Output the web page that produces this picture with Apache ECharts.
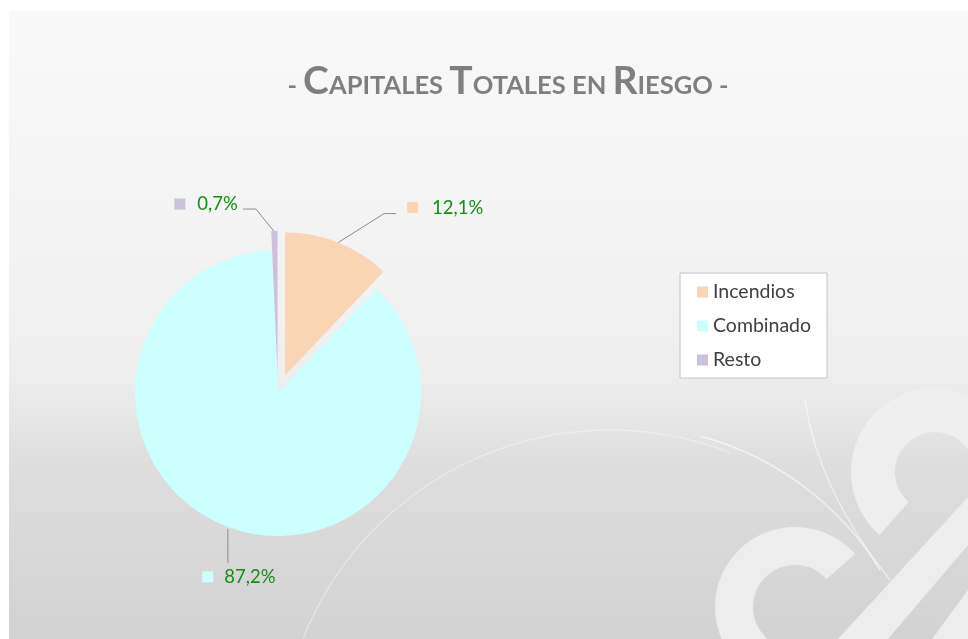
<!DOCTYPE html>
<html>
<head>
<meta charset="utf-8">
<script src="https://cdn.jsdelivr.net/npm/echarts@6/dist/echarts.min.js"></script>
<style>
  html, body { margin: 0; padding: 0; background: #ffffff; }
  #chart { width: 968px; height: 639px; }
</style>
</head>
<body>
<div id="chart"></div>
<script>
// ---- data ----
const categories = ['Incendios', 'Combinado', 'Resto'];
const values = [12.1, 87.2, 0.7];
const explodedSlices = ['Incendios', 'Resto'];
const sliceColors = ['#fad5b5', '#ccffff', '#ccc0da'];

const chart = echarts.init(document.getElementById('chart'), null, { renderer: 'canvas' });

const FONT = 'Lato, "Open Sans", sans-serif';
const CX = 278, CY = 393, R = 143;

function fmt(v) { return v.toFixed(1).replace('.', ',') + '%'; }

// per-slice leader line / label placement (styling only)
const labelCfg = [
  { length: 37.7, length2: 45, dist: 10, gap: 14 },
  { length: 30, length2: 0, dist: 5, gap: 11 },
  { length: 27, length2: 31, dist: 5, gap: 12 }
];

const pieData = categories.map((name, i) => ({
  name: name,
  value: values[i],
  selected: explodedSlices.indexOf(name) >= 0,
  itemStyle: { color: sliceColors[i] },
  labelLine: { length: labelCfg[i].length, length2: labelCfg[i].length2 },
  label: {
    distanceToLabelLine: labelCfg[i].dist,
    rich: {
      sq: { width: 11, height: 11, backgroundColor: sliceColors[i] },
      t: { fontFamily: FONT, fontSize: 18.5, color: '#168c16', padding: [0, 0, 0, labelCfg[i].gap] }
    }
  }
}));

const option = {
  backgroundColor: '#ffffff',
  animation: false,
  title: {
    text: '{d|- }{b|C}{s|APITALES }{b|T}{s|OTALES EN }{b|R}{s|IESGO}{d| -}',
    left: 503,
    top: 52,
    textAlign: 'center',
    textStyle: {
      rich: {
        b: { fontFamily: FONT, fontWeight: 'bold', fontSize: 39, color: '#7f7f7f', lineHeight: 44, verticalAlign: 'bottom' },
        s: { fontFamily: FONT, fontWeight: 'bold', fontSize: 25.5, color: '#7f7f7f', lineHeight: 44, verticalAlign: 'bottom', padding: [0, 0, 2, 0] },
        d: { fontFamily: FONT, fontWeight: 'bold', fontSize: 25.5, color: '#7f7f7f', lineHeight: 44, verticalAlign: 'bottom', padding: [0, 0, 2, 0] }
      }
    }
  },
  legend: {
    orient: 'vertical',
    left: 680,
    top: 273,
    data: categories,
    icon: 'rect',
    itemWidth: 11,
    itemHeight: 11,
    itemGap: 14,
    padding: [9, 16, 8, 17],
    backgroundColor: '#ffffff',
    borderColor: '#c4c4c4',
    borderWidth: 1,
    selectedMode: false,
    textStyle: { fontFamily: FONT, fontSize: 19.5, color: '#404040', lineHeight: 18 }
  },
  graphic: [
    {
      type: 'rect', silent: true, z: -10,
      shape: { x: 9, y: 10, width: 959, height: 629 },
      style: {
        fill: new echarts.graphic.LinearGradient(0, 0, 0, 1, [
          { offset: 0, color: '#f9f9f9' },
          { offset: 0.45, color: '#f2f2f2' },
          { offset: 0.58, color: '#eeeeee' },
          { offset: 0.72, color: '#dedede' },
          { offset: 1, color: '#d2d2d2' }
        ])
      }
    },
    {
      type: 'arc', silent: true, z: -9,
      shape: { cx: 610, cy: 760, r: 330, startAngle: Math.PI * 1.12, endAngle: Math.PI * 1.62 },
      style: { stroke: 'rgba(255,255,255,0.35)', lineWidth: 1.5, fill: null }
    },
    {
      type: 'bezierCurve', silent: true, z: -9,
      shape: { x1: 700, y1: 436, x2: 880, y2: 570, cpx1: 790, cpy1: 460, cpx2: 850, cpy2: 520 },
      style: { stroke: 'rgba(255,255,255,0.6)', lineWidth: 1.5, fill: null }
    },
    {
      type: 'bezierCurve', silent: true, z: -9,
      shape: { x1: 805, y1: 400, x2: 890, y2: 580, cpx1: 815, cpy1: 470, cpx2: 850, cpy2: 530 },
      style: { stroke: 'rgba(255,255,255,0.5)', lineWidth: 1.5, fill: null }
    },
    {
      type: 'arc', silent: true, z: -8,
      shape: { cx: 935, cy: 472, r: 62, startAngle: Math.PI * 0.73, endAngle: Math.PI * 2.2, clockwise: true },
      style: { stroke: '#f0f0f0', lineWidth: 44, fill: null, lineCap: 'butt', opacity: 0.9 }
    },
    {
      type: 'arc', silent: true, z: -8,
      shape: { cx: 795, cy: 607, r: 61, startAngle: Math.PI * 0.5, endAngle: Math.PI * 1.77, clockwise: true },
      style: { stroke: '#f0f0f0', lineWidth: 38, fill: null, lineCap: 'butt', opacity: 0.9 }
    },
    {
      type: 'polygon', silent: true, z: -8,
      shape: { points: [[838, 639], [888, 639], [968, 545], [968, 497]] },
      style: { fill: '#f0f0f0', opacity: 0.9 }
    },
    {
      type: 'polygon', silent: true, z: -8,
      shape: { points: [[932, 639], [968, 639], [968, 590]] },
      style: { fill: '#f0f0f0', opacity: 0.9 }
    }
  ],
  series: [{
    type: 'pie',
    center: [CX, CY],
    radius: R,
    startAngle: 90,
    clockwise: true,
    selectedMode: 'multiple',
    selectedOffset: 19,
    avoidLabelOverlap: false,
    emphasis: { disabled: true, scale: false },
    itemStyle: { borderWidth: 0 },
    label: {
      show: true,
      position: 'outside',
      formatter: p => '{sq|}{t|' + fmt(p.value) + '}'
    },
    labelLine: {
      show: true,
      lineStyle: { color: '#8c8c8c', width: 1 }
    },
    labelLayout: function (params) {
      const pts = params.labelLinePoints;
      if (!pts) return;
      const p0 = pts[0];
      if (params.dataIndex === 1) {
        return {
          x: p0[0] + 11,
          y: p0[1] + 50,
          align: 'center',
          verticalAlign: 'middle',
          labelLinePoints: [[p0[0], p0[1] + 2], [p0[0], p0[1] + 36]]
        };
      }
      if (params.dataIndex === 0) {
        return {
          labelLinePoints: [[p0[0], p0[1]], [p0[0] + 46, p0[1] - 29], [p0[0] + 58, p0[1] - 29]]
        };
      }
      if (params.dataIndex === 2) {
        return {
          labelLinePoints: [[p0[0] + 2.5, p0[1] + 4], [p0[0] - 18.5, p0[1] - 22], [p0[0] - 31.5, p0[1] - 22]]
        };
      }
    },
    data: pieData
  }]
};

chart.setOption(option);
</script>
</body>
</html>
